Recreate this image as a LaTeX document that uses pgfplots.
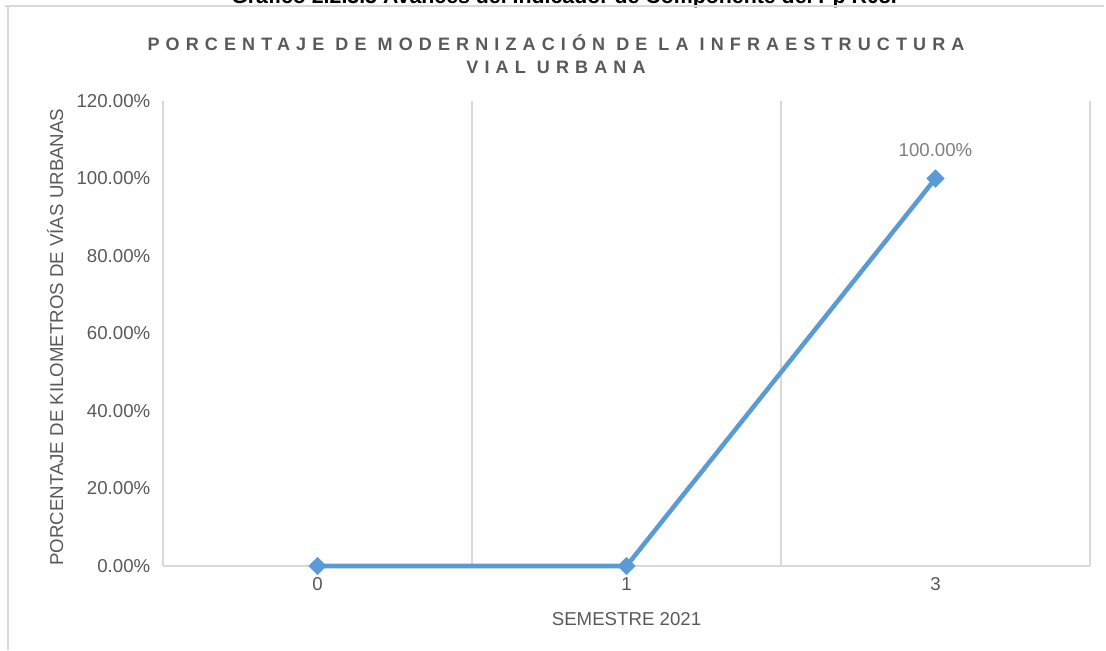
\documentclass[border=0pt]{standalone}
\usepackage{pgfplots}
\pgfplotsset{compat=1.18}
\usepackage{fontspec}
\setmainfont{Liberation Sans}

\definecolor{txt}{HTML}{595959}
\definecolor{lbl}{HTML}{7F7F7F}
\definecolor{grd}{HTML}{D9D9D9}
\definecolor{ser}{HTML}{5B9BD5}

\begin{document}
\begin{tikzpicture}[x=0.75pt,y=0.75pt]
% picture is 1106 x 650 px, 1 px = 0.75pt, origin bottom left
\useasboundingbox (0,0) rectangle (1106,650);

% caption of the document, cut off at the top edge
\node[anchor=base, inner sep=0pt, font=\bfseries\fontsize{16}{18}\selectfont] at (564,646)
  {Gráfico 2.2.3.3 Avances del Indicador de Componente del Pp R08.};

% chart frame (only top and left visible)
\draw[grd, line width=1.2pt] (5,644) -- (1104,644);
\draw[grd, line width=1.2pt] (8,644) -- (8,0);

% title
\begin{scope}[font=\bfseries\fontsize{13.5}{16}\selectfont\addfontfeature{LetterSpace=34}, text=txt]
\node[anchor=base, inner sep=0pt] at (556,599) {PORCENTAJE DE MODERNIZACIÓN DE LA INFRAESTRUCTURA};
\node[anchor=base, inner sep=0pt] at (556,576) {VIAL URBANA};
\end{scope}

\begin{axis}[
    at={(122.25pt,63pt)}, anchor=south west,
    scale only axis,
    width=695.25pt, height=348.75pt,
    xmin=-0.5, xmax=2.5,
    ymin=0, ymax=120,
    xtick={0,1,2}, xticklabels={0,1,3},
    ytick={0,20,40,60,80,100,120},
    yticklabels={0.00\%,20.00\%,40.00\%,60.00\%,80.00\%,100.00\%,120.00\%},
    minor xtick={-0.5,0.5,1.5,2.5},
    xminorgrids=true,
    minor grid style={grd, line width=0.9pt},
    axis x line*=bottom, axis y line*=left,
    x axis line style={grd, line width=1pt, -},
    y axis line style={draw=none},
    major tick length=0pt, minor tick length=0pt,
    tick label style={font=\fontsize{14}{16}\selectfont, text=txt},
    yticklabel style={xshift=-6pt},
    xticklabel style={yshift=-5pt},
    xlabel={SEMESTRE 2021},
    ylabel={PORCENTAJE DE KILOMETROS DE VÍAS URBANAS},
    label style={font=\fontsize{14}{16}\selectfont, text=txt},
    xlabel style={at={(axis description cs:0.5,-0.114)}, anchor=center},
    ylabel style={at={(axis description cs:-0.1165,0.492)}, anchor=center},
    clip=false,
]
\addplot[ser, line width=3.4pt, mark=square*, mark size=4.6pt,
    mark options={rotate=45, fill=ser, draw=ser, line width=0.5pt}]
    coordinates {(0,0) (1,0) (2,100)};
\addplot[draw=none, no marks, point meta=explicit symbolic,
    nodes near coords,
    nodes near coords style={anchor=center, yshift=21pt, text=lbl,
      font=\fontsize{14}{16}\selectfont}]
    coordinates {(2,100) [100.00\%]};
\end{axis}
\end{tikzpicture}
\end{document}
